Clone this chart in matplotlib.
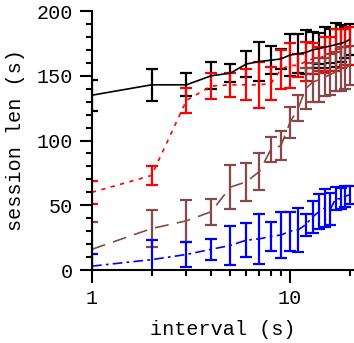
import matplotlib
matplotlib.use("Agg")
import matplotlib.pyplot as plt
from matplotlib.ticker import LogLocator, MultipleLocator, FixedLocator, NullFormatter

plt.rcParams['font.family'] = ['Liberation Mono', 'DejaVu Sans Mono']
plt.rcParams['lines.scale_dashes'] = False

interval = list(range(1, 21))

# mean session length (s) and error half-widths per series
black_len = [135, 143, 143, 150, 152, 159, 161, 162, 163, 166, 167, 168, 170, 171, 172, 173, 174, 175, 176, 178]
black_err = [12, 12.5, 9, 10.5, 7, 10, 15, 11, 8, 16, 15, 17, 14, 12, 16, 13, 17, 14, 12, 12]

red_len = [60, 73, 131, 142, 143, 143, 143, 144, 155, 158, 158, 161, 163, 163, 166, 167, 170, 171, 172, 173]
red_err = [9, 7.5, 9.5, 10, 9.5, 12, 18, 12.5, 15, 17.5, 9, 15, 12, 9, 14, 13, 16, 15, 14, 15]

brown_len = [16, 32, 38, 45, 64, 68, 76, 93, 96, 114, 125, 140, 145, 147, 149, 151, 153, 155, 156, 158]
brown_err = [21, 14.5, 16, 10, 17, 15, 14.5, 9.5, 11, 12, 10, 16, 15, 17, 15, 16, 15, 17, 16, 15]

blue_len = [3, 8, 12, 16, 19, 23, 24, 26, 27, 30, 31, 35, 41, 45, 48, 47, 55, 55, 57, 58]
blue_err = [9, 15, 10, 8, 15, 13, 19.5, 11, 17.5, 15, 17, 8.5, 12.5, 13.5, 14.5, 12.5, 9, 8, 8, 7]

yticks = [0, 50, 100, 150, 200]

W, H = 354, 343
fig = plt.figure(figsize=(W / 100, H / 100), dpi=100)
ax = fig.add_axes([92 / W, 73 / H, 1 - 92 / W, 259 / H])

series = [
    (black_len, black_err, 'black', (None)),
    (red_len, red_err, '#ff0000', (0, (3, 4))),
    (brown_len, brown_err, '#864848', (0, (10, 6))),
    (blue_len, blue_err, '#0000ff', (0, (7, 3, 2, 3))),
]
for vals, errs, col, ls in series:
    ax.errorbar(interval, vals, yerr=errs, color=col,
                linestyle='-' if ls is None else ls, linewidth=1.2,
                elinewidth=1.6, capsize=4, capthick=1.6)

ax.set_xscale('log')
ax.set_xlim(1, 10 ** ((354 - 92) / 198))
ax.set_ylim(0, 200)

ax.xaxis.set_major_locator(FixedLocator([1, 10]))
ax.xaxis.set_major_formatter(matplotlib.ticker.FixedFormatter(['1', '10']))
ax.xaxis.set_minor_locator(LogLocator(base=10, subs=range(2, 10)))
ax.xaxis.set_minor_formatter(NullFormatter())
ax.set_yticks(yticks)
ax.yaxis.set_minor_locator(MultipleLocator(10))

ax.spines['top'].set_visible(False)
ax.spines['right'].set_visible(False)
for s in ('left', 'bottom'):
    ax.spines[s].set_linewidth(1.5)

ax.tick_params(which='major', direction='out', length=9, width=1.5, labelsize=14.5, pad=5)
ax.tick_params(which='minor', direction='out', length=4.5, width=1.5)
ax.tick_params(axis='x', which='major', pad=5)

ax.set_xlabel('interval (s)', fontsize=14.5, labelpad=8)
ax.set_ylabel('session len (s)', fontsize=14.5, labelpad=8)

fig.savefig('out.png', dpi=100, facecolor='white')
